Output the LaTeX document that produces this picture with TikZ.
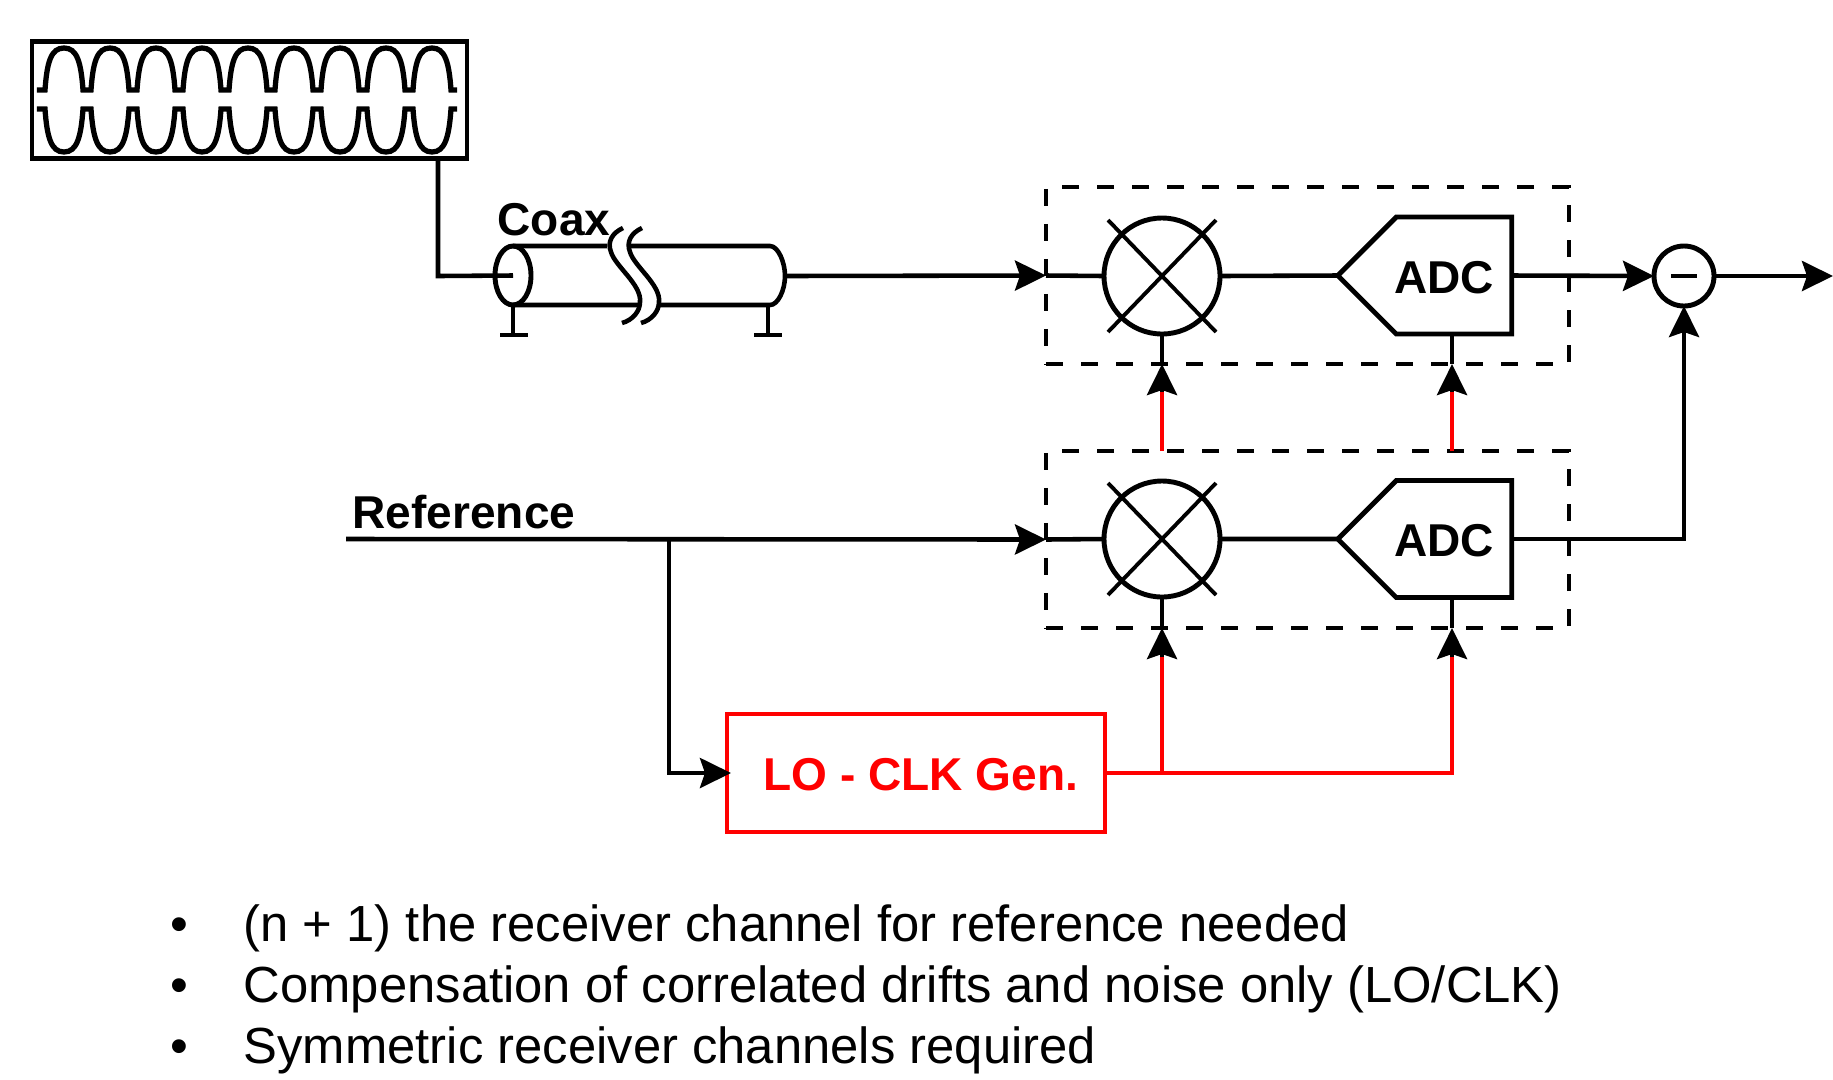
\documentclass[tikz,border=0pt]{standalone}
\usepackage{fontspec}
\setmainfont{Liberation Sans}
\usetikzlibrary{arrows.meta,shapes.geometric,shapes.symbols}
\definecolor{lored}{RGB}{255,0,0}
\tikzset{wire/.style={line width=1.3pt},lowire/.style={line width=1.3pt,draw=lored},
  sig/.style={wire,-{Stealth[length=.31cm,width=.3cm,inset=.05cm]}},
  mix/.style={circle,draw,line width=1.4pt,minimum size=1.16cm,inner sep=0pt,outer sep=0pt},
  adc/.style={signal,signal to=west,signal from=nowhere,signal pointer angle=90,draw,line width=1.4pt,minimum width=1.74cm,minimum height=1.17cm,inner sep=0pt,outer sep=0pt},
  chan/.style={rectangle,draw,line width=1.4pt,dash pattern=on .17cm off .18cm,minimum width=5.23cm,minimum height=1.77cm,inner sep=0pt,outer sep=0pt},
  lbl/.style={inner sep=0pt,font=\fontsize{13.1}{15}\selectfont\bfseries},
  note/.style={inner sep=0pt,anchor=base west,font=\fontsize{14.45}{15}\selectfont}}
\begin{document}
\begin{tikzpicture}
  \useasboundingbox (0,0) rectangle (18.33,-10.79);
  % source
  \node[rectangle,draw,line width=1.4pt,minimum width=4.35cm,minimum height=1.17cm,inner sep=0pt] (wavebox) at (2.495,-1.0) {};
  \draw[wire,line width=1.5pt] (.37,-.90) \foreach \i in {0,...,8} { -- ++(.08,0) .. controls +(.02,.28) and +(-.13,0) .. ++(.19,.42) .. controls +(.13,0) and +(-.02,.28) .. ++(.19,-.42) } -- ++(.06,0);
  \draw[wire,line width=1.5pt] (.37,-1.09) \foreach \i in {0,...,8} { -- ++(.08,0) .. controls +(.02,-.28) and +(-.13,0) .. ++(.19,-.43) .. controls +(.13,0) and +(-.02,-.28) .. ++(.19,.43) } -- ++(.06,0);
  % coax
  \node[ellipse,draw,line width=1.4pt,minimum width=.36cm,minimum height=.59cm,inner sep=0pt,outer sep=0pt] (coaxa) at (5.13,-2.755) {};
  \coordinate (bend) at (4.38,-2.76);
  \coordinate (coaxend) at (7.85,-2.76);
  \coordinate (grounda) at (5.13,-3.35);
  \coordinate (groundb) at (7.68,-3.35);
  \draw[wire] (wavebox.south -| bend) -- (bend) -- (coaxa.center);
  \draw[wire] (coaxa.north) -- (6.07,-2.46) (6.27,-2.46) -- (7.70,-2.46) .. controls (7.78,-2.46) and (7.85,-2.62) .. (coaxend) .. controls (7.85,-2.90) and (7.78,-3.05) .. (7.70,-3.05) -- (6.58,-3.05) (6.38,-3.05) -- (coaxa.south);
  \foreach \s in {0,.19} {
    \draw[wire] (6.23+\s,-2.28) .. controls (6.12+\s,-2.33) and (6.07+\s,-2.42) .. (6.11+\s,-2.52) .. controls (6.15+\s,-2.66) and (6.42+\s,-2.85) .. (6.40+\s,-3.02) .. controls (6.40+\s,-3.11) and (6.33+\s,-3.20) .. (6.22+\s,-3.23);
  }
  \draw[wire] (coaxa.south) -- (grounda) (5.00,-3.35) -- (5.28,-3.35);
  \draw[wire] (7.68,-3.05) -- (groundb) (7.54,-3.35) -- (7.82,-3.35);
  \node[lbl,anchor=base west] (coaxlabel) at (4.97,-2.35) {Coax};
  % channels
  \node[chan] (chana) at (13.075,-2.755) {};
  \node[chan] (chanb) at (13.075,-5.395) {};
  \node[mix] (mixa) at (11.62,-2.76) {};
  \node[mix] (mixb) at (11.62,-5.39) {};
  \node[adc] (adca) at (14.54,-2.755) {};
  \node[adc] (adcb) at (14.54,-5.39) {};
  \node[lbl] (adctexta) at (14.44,-2.78) {ADC};
  \node[lbl] (adctextb) at (14.44,-5.41) {ADC};
  \foreach \m in {mixa,mixb} {
    \draw[wire,line width=1.1pt] (\m) +(-.54,.56) -- +(.54,-.56) (\m) +(.54,.56) -- +(-.54,-.56);
  }
  \node[circle,draw,line width=1.4pt,minimum size=.6cm,inner sep=0pt,outer sep=0pt] (sum) at (16.84,-2.76) {};
  \draw[wire] (sum) +(-.13,0) -- +(.13,0);
  \coordinate (output) at (18.33,-2.76);
  % signal path
  \draw[sig] (coaxend) -- (chana.west);
  \draw[wire] (chana.west) -- (mixa.west) (mixa.east) -- (adca.west);
  \draw[sig] (adca.east) -- (sum.west);
  \draw[sig] (sum.east) -- (output);
  \coordinate (refin) at (3.46,-5.39);
  \coordinate (branch) at (6.69,-5.39);
  \draw[sig] (refin) -- (chanb.west);
  \draw[wire] (chanb.west) -- (mixb.west) (mixb.east) -- (adcb.west);
  \draw[sig] (adcb.east) -- (sum |- adcb.east) -- (sum.south);
  \node[lbl,anchor=base west] (reflabel) at (3.52,-5.28) {Reference};
  % LO - CLK
  \node[rectangle,draw=lored,line width=1.4pt,minimum width=3.78cm,minimum height=1.18cm,inner sep=0pt,outer sep=0pt] (gen) at (9.16,-7.73) {};
  \node[lbl,text=lored] (gentext) at (9.21,-7.75) {LO - CLK Gen.};
  \draw[sig] (branch) |- ([xshift=.04cm]gen.west);
  \coordinate (feedc) at (11.62,-6.57);
  \coordinate (feedd) at (14.52,-6.57);
  \coordinate (feeda) at (11.62,-3.92);
  \coordinate (feedb) at (14.52,-3.92);
  \draw[lowire] (gen.east) -- (14.52,-7.73) -- (feedd);
  \draw[lowire] (11.62,-7.73) -- (feedc);
  \draw[lowire] (mixa |- chanb.north) -- (feeda);
  \draw[lowire] (feedb |- chanb.north) -- (feedb);
  \draw[sig] (feeda) -- (feeda |- chana.south);
  \draw[sig] (feedb) -- (feedb |- chana.south);
  \draw[sig] (feedc) -- (feedc |- chanb.south);
  \draw[sig] (feedd) -- (feedd |- chanb.south);
  \draw[wire] (feeda |- chana.south) -- (mixa.south);
  \draw[wire] (feedb |- chana.south) -- (feedb |- adca.south);
  \draw[wire] (feedc |- chanb.south) -- (mixb.south);
  \draw[wire] (feedd |- chanb.south) -- (feedd |- adcb.south);
  % notes
  \node[note] (bulleta) at (1.70,-9.41) {•};
  \node[note] (bulletb) at (1.70,-10.02) {•};
  \node[note] (bulletc) at (1.70,-10.63) {•};
  \node[note] (notea) at (2.43,-9.41) {(n + 1) the receiver channel for reference needed};
  \node[note] (noteb) at (2.43,-10.02) {Compensation of correlated drifts and noise only (LO/CLK)};
  \node[note] (notec) at (2.43,-10.63) {Symmetric receiver channels required};
\end{tikzpicture}
\end{document}
